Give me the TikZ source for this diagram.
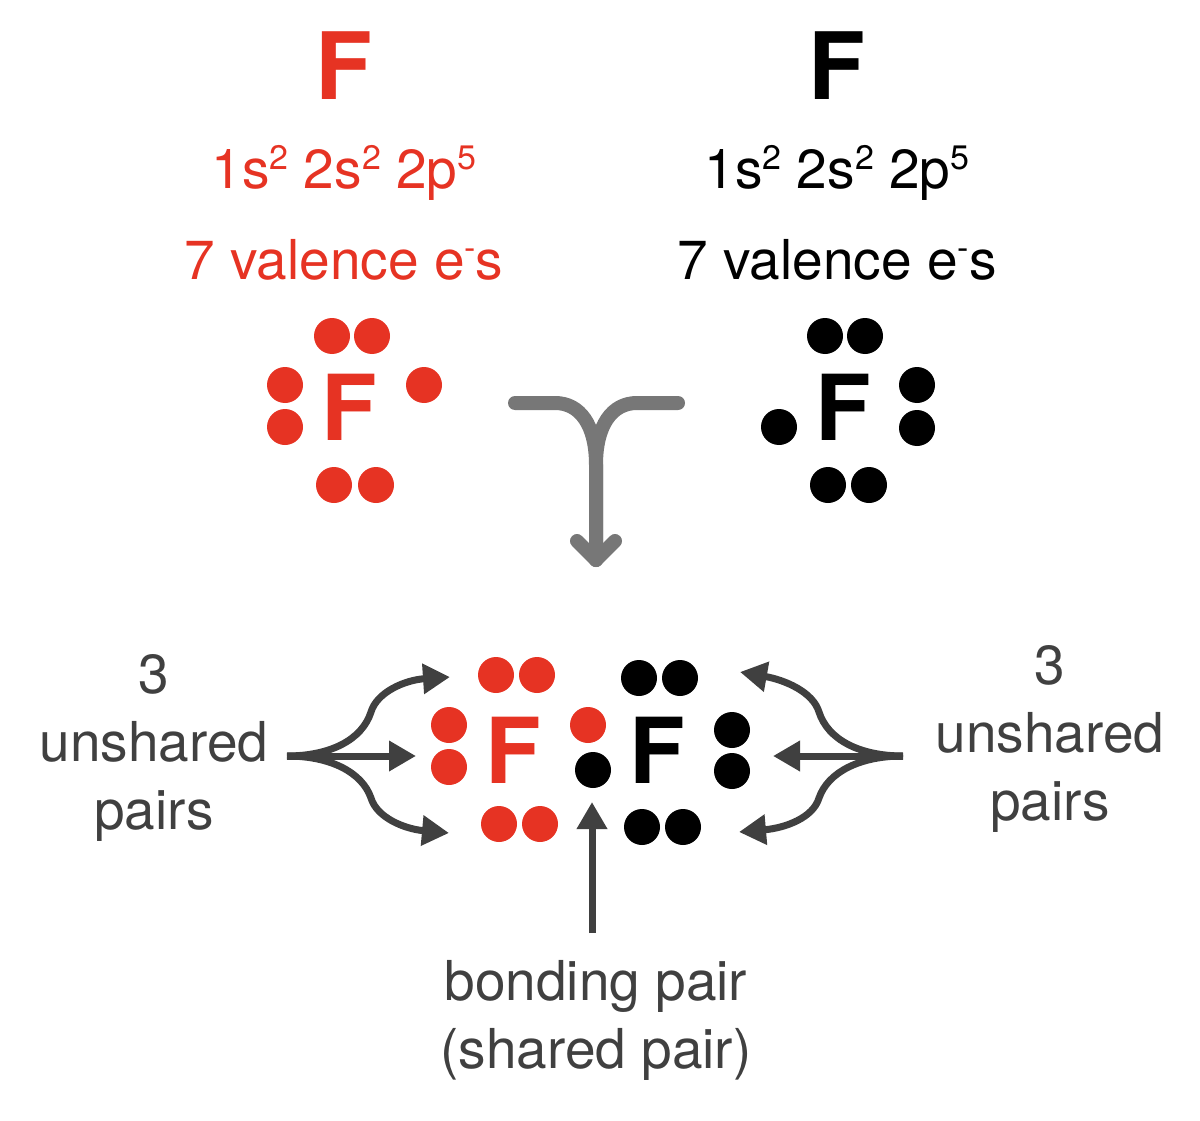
\documentclass[tikz,border=0pt]{standalone}
\usepackage{fontspec}
\setmainfont{TeX Gyre Heros}
\usetikzlibrary{arrows.meta}
\definecolor{fred}{HTML}{E63323}
\definecolor{fgray}{HTML}{777777}
\definecolor{fdark}{HTML}{404040}
\newcommand{\sups}[1]{\raisebox{0.36em}{\fontsize{34}{34}\selectfont #1}}
\tikzset{
  dotr/.style={circle,fill=#1,inner sep=0pt,minimum size=36pt},
  bigF/.style={anchor=base,font=\bfseries\fontsize{93}{93}\selectfont,inner sep=0pt},
  lewisF/.style={anchor=base,font=\bfseries\fontsize{91}{91}\selectfont,inner sep=0pt},
  info/.style={anchor=base,font=\fontsize{55}{55}\selectfont,inner sep=0pt},
  lab/.style={align=center,text=fdark,font=\fontsize{55}{68}\selectfont,inner sep=0pt},
  darrow/.style={draw=fdark,line width=7pt,-{Triangle[length=27pt,width=29pt]}},
  garrow/.style={draw=fgray,line width=14pt,line cap=round,line join=round},
}
\begin{document}
\begin{tikzpicture}[x=1pt,y=-1pt]
\useasboundingbox (0,0) rectangle (1200,1121);
% top headings
\node[bigF,text=fred] (fa) at (344,100) {F};
\node[bigF,text=black] (fb) at (837,100) {F};
\node[info,text=fred] (ca) at (344,189) {1s\sups{2} 2s\sups{2} 2p\sups{5}};
\node[info,text=black] (cb) at (837,189) {1s\sups{2} 2s\sups{2} 2p\sups{5}};
\node[info,text=fred] (va) at (344,279) {7 valence e\sups{-}s};
\node[info,text=black] (vb) at (837,279) {7 valence e\sups{-}s};
% top Lewis red
\node[lewisF,text=fred] (la) at (349,440) {F};
\foreach \n/\x/\y in {a1/332/336,a2/372/336,a3/285/385,a4/285/427,a5/424/385,a6/334/485,a7/376/485}
  \node[dotr=fred] (\n) at (\x,\y) {};
% top Lewis black
\node[lewisF,text=black] (lb) at (843,440) {F};
\foreach \n/\x/\y in {b1/825/336,b2/865/336,b3/917/385,b4/917/428,b5/779/427,b6/828/485,b7/869/485}
  \node[dotr=black] (\n) at (\x,\y) {};
% merge arrow
\coordinate (gl) at (515,403);
\coordinate (gr) at (678,403);
\coordinate (gm) at (596,560);
\coordinate (gh1) at (577,541);
\coordinate (gh2) at (615,541);
\draw[garrow] (gl) -- (555,403) .. controls (580,403) and (596,425) .. (596,465) -- (gm);
\draw[garrow] (gr) -- (637,403) .. controls (612,403) and (596,425) .. (596,465) -- (gm);
\draw[garrow] (gh1) -- (gm) -- (gh2);
% bottom molecule
\node[lewisF,text=fred] (ma) at (513,783) {F};
\node[lewisF,text=black] (mb) at (657,783) {F};
\foreach \n/\x/\y in {c1/496/675,c2/537/675,c3/449/725,c4/449/767,c5/588/725,c6/499/824,c7/540/824}
  \node[dotr=fred] (\n) at (\x,\y) {};
\foreach \n/\x/\y in {d1/639/678,d2/680/678,d3/732/730,d4/732/771,d5/593/770,d6/642/827,d7/683/827}
  \node[dotr=black] (\n) at (\x,\y) {};
% labels
\node[lab] (ll) at (154,748) {3\\unshared\\pairs};
\node[lab] (lr) at (1050,739) {3\\unshared\\pairs};
\node[lab] (lbot) at (596,1020) {bonding pair\\(shared pair)};
% left arrows
\coordinate (ls) at (287,756);
\coordinate (lt1) at (450,677);
\coordinate (lt2) at (416,756);
\coordinate (lt3) at (449,833);
\draw[darrow] (ls) .. controls (330,756) and (362,740) .. (371,712) .. controls (377,692) and (405,680) .. (lt1);
\draw[darrow] (ls) -- (lt2);
\draw[darrow] (ls) .. controls (330,756) and (362,772) .. (371,798) .. controls (377,818) and (405,829) .. (lt3);
% right arrows
\coordinate (rs) at (903,756);
\coordinate (rt1) at (740,672);
\coordinate (rt2) at (773,756);
\coordinate (rt3) at (739,832);
\draw[darrow] (rs) .. controls (860,756) and (828,740) .. (819,712) .. controls (813,692) and (785,680) .. (rt1);
\draw[darrow] (rs) -- (rt2);
\draw[darrow] (rs) .. controls (860,756) and (828,772) .. (819,798) .. controls (813,818) and (785,828) .. (rt3);
% bonding arrow
\coordinate (bs) at (592,933);
\coordinate (bt) at (592,802);
\draw[darrow] (bs) -- (bt);
\end{tikzpicture}
\end{document}
